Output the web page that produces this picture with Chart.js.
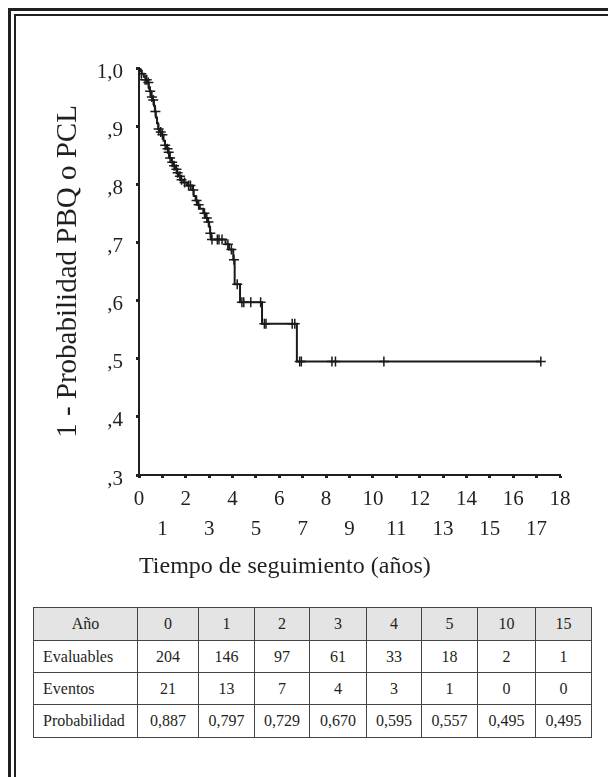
<!DOCTYPE html>
<html>
<head>
<meta charset="utf-8">
<script src="https://cdn.jsdelivr.net/npm/chart.js@4"></script>
<style>
    body { margin: 0; width: 608px; height: 777px; background: #fff; position: relative; overflow: hidden; font-family: "Liberation Serif", "DejaVu Serif", serif; color: #231f20; }
    .frame { position: absolute; background: #231f20; }
    #chart-box { position: absolute; left: 0; top: 0; width: 608px; height: 600px; }
    table { position: absolute; left: 33px; top: 607px; width: 558px; border-collapse: collapse; table-layout: fixed; font-size: 16px; }
    td { border: 1px solid #444; text-align: center; padding: 0; }
    tr.head td { background: #e4e4e4; }
    td.name { text-align: left; padding-left: 9px; }
    tr.head td.name { text-align: center; padding-left: 0; }
</style>
</head>
<body>
<div class="frame" style="left:8px; top:8px; width:3px; height:769px;"></div>
<div class="frame" style="left:8px; top:8px; width:600px; height:3px;"></div>
<div class="frame" style="left:14px; top:14px; width:2px; height:763px;"></div>
<div class="frame" style="left:14px; top:14px; width:594px; height:2px;"></div>

<div id="chart-box"><canvas id="myChart"></canvas></div>

<table id="tabla">
    <colgroup>
        <col style="width:104px"><col style="width:61px"><col style="width:56px"><col style="width:55px"><col style="width:57px"><col style="width:55px"><col style="width:56px"><col style="width:58px"><col style="width:56px">
    </colgroup>
    <tbody></tbody>
</table>

<script>
// curva de Kaplan-Meier: tiempos de evento (años) y probabilidad después de cada evento
const eventTimes = [0.05, 0.12, 0.20, 0.30, 0.38, 0.42, 0.46, 0.52, 0.58, 0.64, 0.68, 0.72, 0.77, 0.82, 0.90, 0.97,
    1.05, 1.11, 1.18, 1.25, 1.30, 1.38, 1.47, 1.55, 1.62, 1.70, 1.78, 1.90, 2.05, 2.28, 2.34, 2.42, 2.48, 2.60,
    2.75, 2.85, 2.95, 3.00, 3.04, 3.08, 3.70, 3.85, 4.03, 4.09, 4.32, 5.26, 6.75, 17.18];
const eventSurvival = [0.995, 0.990, 0.985, 0.980, 0.975, 0.965, 0.960, 0.950, 0.945, 0.935, 0.925, 0.915, 0.905, 0.895, 0.890, 0.885,
    0.875, 0.867, 0.861, 0.855, 0.845, 0.838, 0.832, 0.826, 0.820, 0.814, 0.808, 0.803, 0.798, 0.790, 0.780, 0.772, 0.765, 0.758,
    0.750, 0.742, 0.735, 0.727, 0.716, 0.705, 0.697, 0.688, 0.670, 0.628, 0.597, 0.560, 0.495, 0.495];

// casos censurados (+)
const censorTimes = [0.10, 0.26, 0.33, 0.40, 0.48, 0.55, 0.61, 0.70, 0.84, 0.93, 1.00, 1.12, 1.22, 1.27, 1.33, 1.42,
    1.50, 1.60, 1.65, 1.75, 1.82, 1.95, 2.12, 2.20, 2.32, 2.46, 2.55, 2.80, 2.90, 2.97, 3.05, 3.12, 3.35, 3.42, 3.55,
    3.80, 3.95, 4.06, 4.20, 4.40, 4.48, 4.78, 5.20, 5.36, 5.43, 6.55, 6.66, 6.87, 6.94, 8.25, 8.40, 10.47, 17.18];
const censorSurvival = [0.990, 0.980, 0.980, 0.975, 0.960, 0.950, 0.945, 0.925, 0.895, 0.890, 0.885, 0.867, 0.861, 0.855, 0.845, 0.838,
    0.832, 0.826, 0.820, 0.814, 0.808, 0.803, 0.798, 0.798, 0.790, 0.772, 0.765, 0.750, 0.742, 0.735, 0.716, 0.705, 0.705, 0.705, 0.705,
    0.697, 0.688, 0.670, 0.628, 0.597, 0.597, 0.597, 0.597, 0.560, 0.560, 0.560, 0.560, 0.495, 0.495, 0.495, 0.495, 0.495, 0.495];

// tabla
const tableYears = ['0', '1', '2', '3', '4', '5', '10', '15'];
const tableEvaluables = ['204', '146', '97', '61', '33', '18', '2', '1'];
const tableEventos = ['21', '13', '7', '4', '3', '1', '0', '0'];
const tableProbabilidad = ['0,887', '0,797', '0,729', '0,670', '0,595', '0,557', '0,495', '0,495'];

const ink = '#231f20';
const serif = '"Liberation Serif", "DejaVu Serif", serif';

// filas de la tabla
const rows = [
    ['Año', tableYears, 'head', 33],
    ['Evaluables', tableEvaluables, '', 32],
    ['Eventos', tableEventos, '', 32],
    ['Probabilidad', tableProbabilidad, '', 33],
];
const tbody = document.querySelector('#tabla tbody');
rows.forEach(([name, values, cls, h]) => {
    const tr = document.createElement('tr');
    tr.className = cls;
    tr.style.height = h + 'px';
    const first = document.createElement('td');
    first.className = 'name';
    first.textContent = name;
    tr.appendChild(first);
    values.forEach((v) => {
        const td = document.createElement('td');
        td.textContent = v;
        tr.appendChild(td);
    });
    tbody.appendChild(tr);
});

const curve = [{x: 0, y: 1}];
eventTimes.forEach((t, i) => curve.push({x: t, y: eventSurvival[i]}));
const censored = censorTimes.map((t, i) => ({x: t, y: censorSurvival[i]}));

const ctx = document.getElementById('myChart');
new Chart(ctx, {
    type: 'line',
    data: {
        datasets: [{
            data: curve,
            stepped: 'before',
            borderColor: '#1a1a1a',
            borderWidth: 2,
            pointRadius: 0,
            fill: false,
        },
        {
            data: censored,
            showLine: false,
            pointStyle: 'cross',
            pointRadius: 5,
            pointBorderWidth: 1.5,
            pointBorderColor: '#1a1a1a',
            borderColor: '#1a1a1a',
        }]
    },
    options: {
        responsive: true,
        maintainAspectRatio: false,
        animation: false,
        layout: { padding: { top: 68, right: 48, bottom: 0, left: 0 } },
        plugins: { legend: { display: false }, tooltip: { enabled: false } },
        scales: {
            x: {
                type: 'linear',
                min: 0,
                max: 18,
                afterFit: (s) => { s.height = 125; },
                border: { color: ink, width: 2 },
                grid: { drawOnChartArea: false, drawTicks: true, tickLength: 3, tickWidth: 3, tickColor: ink },
                ticks: {
                    stepSize: 1,
                    autoSkip: false,
                    maxRotation: 0,
                    padding: 6,
                    color: ink,
                    font: { family: serif, size: 21, lineHeight: 1.43 },
                    callback: (v) => (v % 2 === 0 ? [String(v)] : ['', String(v)]),
                },
                title: {
                    display: true,
                    text: 'Tiempo de seguimiento (años)',
                    align: 'start',
                    color: ink,
                    font: { family: serif, size: 24 },
                    padding: { top: 0, bottom: 19 },
                },
            },
            y: {
                min: 0.3,
                max: 1.0,
                afterFit: (s) => { s.width = 139; },
                border: { color: ink, width: 2 },
                grid: { drawOnChartArea: false, drawTicks: true, tickLength: 3, tickWidth: 3, tickColor: ink },
                ticks: {
                    stepSize: 0.1,
                    padding: 13,
                    labelOffset: 4,
                    color: ink,
                    font: { family: serif, size: 21 },
                    callback: (v) => {
                        const d = Math.round(v * 10);
                        return d === 10 ? '1,0' : ',' + d;
                    },
                },
                title: {
                    display: true,
                    text: '1 - Probabilidad PBQ o PCL',
                    color: ink,
                    font: { family: serif, size: 29 },
                    padding: { top: 51, bottom: 0 },
                },
            }
        }
    }
});
</script>
</body>
</html>
